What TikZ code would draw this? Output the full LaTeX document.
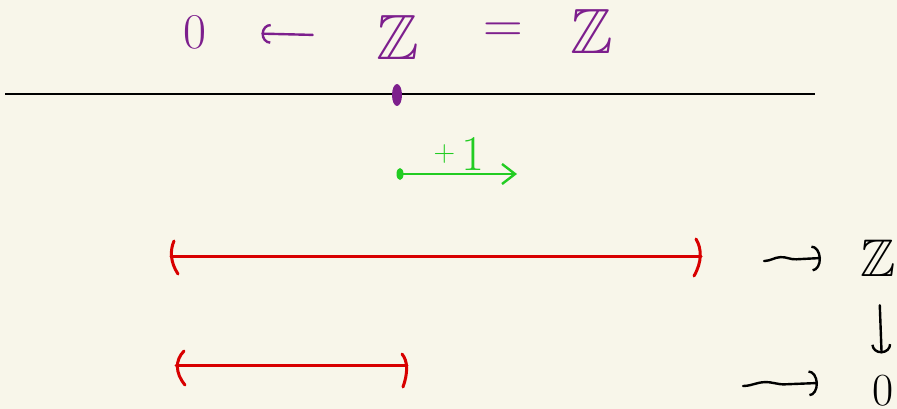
\documentclass[tikz,border=0pt]{standalone}
\usepackage{fontspec}
\usepackage{amssymb}
\usetikzlibrary{arrows.meta,decorations.pathmorphing,calc,shapes.geometric}
\definecolor{bg}{HTML}{F8F6EA}
\definecolor{hpurple}{HTML}{7D1F8D}
\definecolor{hgreen}{HTML}{22CC22}
\definecolor{hred}{HTML}{D80000}
\tikzset{
  lbl/.style={inner sep=0pt, outer sep=0pt},
  ink/.style={line width=2.4pt, line cap=round},
  ival/.style={draw=hred, line width=3pt, line cap=round},
  hooktip/.style={-{Arc Barb[length=9pt,width=20pt]}},
  squig/.style={ink, decorate, decoration={snake, amplitude=3pt, post length=3pt, pre length=1pt}, -{Arc Barb[length=9pt,width=26pt]}},
}
\begin{document}
\begin{tikzpicture}[x=1pt,y=-1pt]
\fill[bg] (0,0) rectangle (897,409);
\useasboundingbox (0,0) rectangle (897,409);

% top row of labels
\node[lbl, text=hpurple] (n0) at (195,32) {\fontsize{50}{50}\selectfont 0};
\node[lbl, text=hpurple] (zA) at (398,37) {\fontsize{64}{64}\selectfont$\mathbb{Z}$};
\node[lbl, text=hpurple] (eq) at (503,33) {\fontsize{55}{55}\selectfont =};
\node[lbl, text=hpurple] (zB) at (592,31) {\fontsize{64}{64}\selectfont$\mathbb{Z}$};
\draw[ink, draw=hpurple, hooktip, shorten <=64pt, shorten >=55pt] (zA) -- (n0);

% real line with point
\coordinate (L0) at (5,94);
\coordinate (L1) at (815,94);
\draw[line width=2.4pt] (L0) -- (L1);
\node[ellipse, fill=hpurple, minimum width=10pt, minimum height=22pt, inner sep=0pt] (pt) at (397,95) {};

% translation by +1
\node[ellipse, fill=hgreen, minimum width=7pt, minimum height=12pt, inner sep=0pt] (g0) at (400,174) {};
\coordinate (g1) at (517,174);
\draw[ink, draw=hgreen, -{Straight Barb[length=13pt,width=20pt]}] (g0.center) -- (g1);
\node[lbl, text=hgreen] (plus) at (459,154) {\raisebox{9pt}{\fontsize{30}{30}\selectfont +}\hspace{6pt}{\fontsize{50}{50}\selectfont 1}};

% big interval
\coordinate (i1a) at (171,256);
\coordinate (i1b) at (701,256);
\draw[ival] (i1a) -- (i1b);
\draw[ival] ($(i1a)+(3,-15)$) .. controls ($(i1a)+(-1,-6)$) and ($(i1a)+(-1,6)$) .. ($(i1a)+(7,18)$);
\draw[ival] ($(i1b)+(-5,-17)$) .. controls ($(i1b)+(1,-7)$) and ($(i1b)+(1,6)$) .. ($(i1b)+(-7,20)$);

% small interval
\coordinate (i2a) at (176,365);
\coordinate (i2b) at (407,365);
\draw[ival] (i2a) -- (i2b);
\draw[ival] ($(i2a)+(8,-14)$) .. controls ($(i2a)+(-1,-5)$) and ($(i2a)+(-1,8)$) .. ($(i2a)+(9,20)$);
\draw[ival] ($(i2b)+(-5,-11)$) .. controls ($(i2b)+(1,-4)$) and ($(i2b)+(1,8)$) .. ($(i2b)+(-4,22)$);

% right column
\node[lbl] (zR) at (878,258) {\fontsize{53}{53}\selectfont$\mathbb{Z}$};
\node[lbl] (zero2) at (883,391) {\fontsize{46}{46}\selectfont 0};
\draw[ink, hooktip, shorten <=29pt, shorten >=22pt] (zR) -- (zero2);

\coordinate (s1a) at (764,261);
\coordinate (s1b) at (821,258);
\draw[squig, decoration={segment length=50pt}] (s1a) -- (s1b);
\coordinate (s2a) at (743,386);
\coordinate (s2b) at (818,383);
\draw[squig, decoration={segment length=66pt}] (s2a) -- (s2b);
\end{tikzpicture}
\end{document}
